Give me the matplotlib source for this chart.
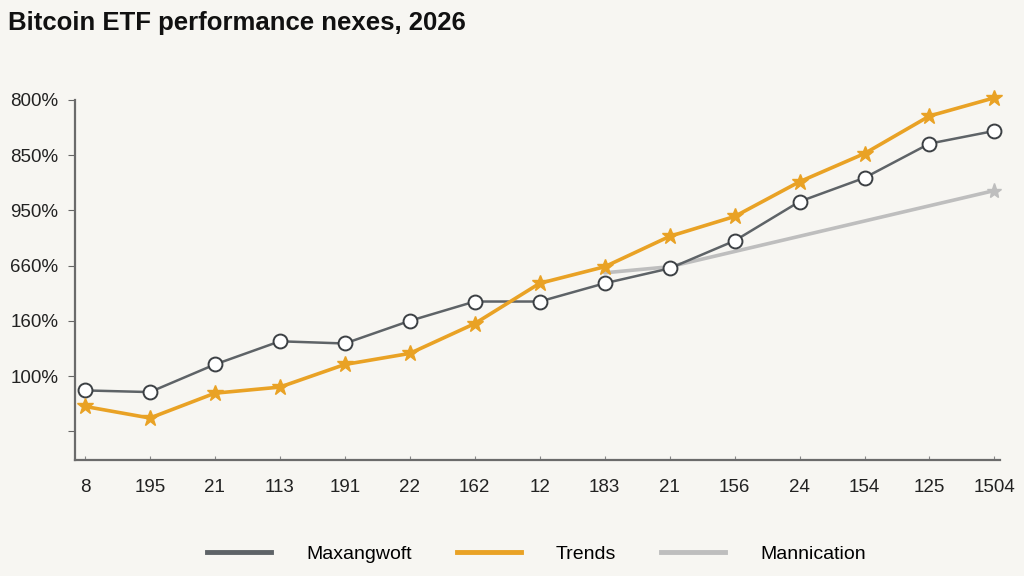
import numpy as np
import matplotlib.pyplot as plt
from matplotlib.lines import Line2D

plt.rcParams['font.family'] = ['Liberation Sans', 'DejaVu Sans']

# ---- data (y in tick units: 0 = lowest tick) ----
x_labels = ['8', '195', '21', '113', '191', '22', '162', '12', '183', '21',
            '156', '24', '154', '125', '1504']
y_tick_labels = ['', '100%', '160%', '660%', '950%', '850%', '800%']

maxangwoft = [0.74, 0.71, 1.21, 1.63, 1.59, 2.00, 2.35, 2.35, 2.68, 2.95,
              3.45, 4.16, 4.59, 5.21, 5.44]
trends = [0.45, 0.24, 0.69, 0.80, 1.21, 1.41, 1.95, 2.68, 2.98, 3.53,
          3.89, 4.52, 5.03, 5.71, 6.04]
mann_idx = [8, 9, 14]
mannication = [2.87, 2.98, 4.36]

bg = '#f7f6f2'
c_dark = '#5e6367'
c_orange = '#e9a225'
c_light = '#bebebe'

fig = plt.figure(figsize=(10.24, 5.76), dpi=100, facecolor=bg)
ax = fig.add_axes([0.0732, 0.2014, 0.903, 0.625])
ax.set_facecolor(bg)

x = np.arange(len(x_labels))

ax.plot(mann_idx, mannication, color=c_light, lw=2.6, zorder=2, solid_capstyle='round')
ax.plot(mann_idx[-1], mannication[-1], marker='*', ms=11, color=c_light, zorder=2,
        clip_on=False)

ax.plot(x, maxangwoft, color=c_dark, lw=1.8, zorder=3, clip_on=False,
        marker='o', ms=10, mfc='white', mec='#3c4044', mew=1.4)
ax.plot(x, trends, color=c_orange, lw=2.6, zorder=4, clip_on=False,
        marker='*', ms=12, mfc=c_orange, mec=c_orange)

ax.set_xlim(-0.154, 14.08)
ax.set_ylim(-0.52, 6.0)

ax.set_xticks(x)
ax.set_xticklabels(x_labels, fontsize=13.5, color='#222222')
ax.set_yticks(range(len(y_tick_labels)))
ax.set_yticklabels(y_tick_labels, fontsize=13.5, color='#222222')
ax.tick_params(axis='x', direction='in', length=3, pad=14, color='#888888')
ax.tick_params(axis='y', direction='out', length=5, pad=7, color='#666666')

for s in ['top', 'right']:
    ax.spines[s].set_visible(False)
for s in ['left', 'bottom']:
    ax.spines[s].set_color('#6b6b6b')
    ax.spines[s].set_linewidth(1.6)

fig.text(0.008, 0.96, 'Bitcoin ETF performance nexes, 2026', fontsize=18.5,
         fontweight='bold', va='center', ha='left', color='#111111')

handles = [Line2D([0], [0], color=c_dark, lw=3.5),
           Line2D([0], [0], color=c_orange, lw=3.5),
           Line2D([0], [0], color=c_light, lw=3.5)]
fig.legend(handles, ['Maxangwoft', 'Trends', 'Mannication'], loc='center',
           bbox_to_anchor=(0.524, 0.038), ncol=3, frameon=False, fontsize=14,
           handlelength=3.3, handletextpad=1.8, columnspacing=2.3)

plt.savefig('out.png', dpi=100, facecolor=bg)
